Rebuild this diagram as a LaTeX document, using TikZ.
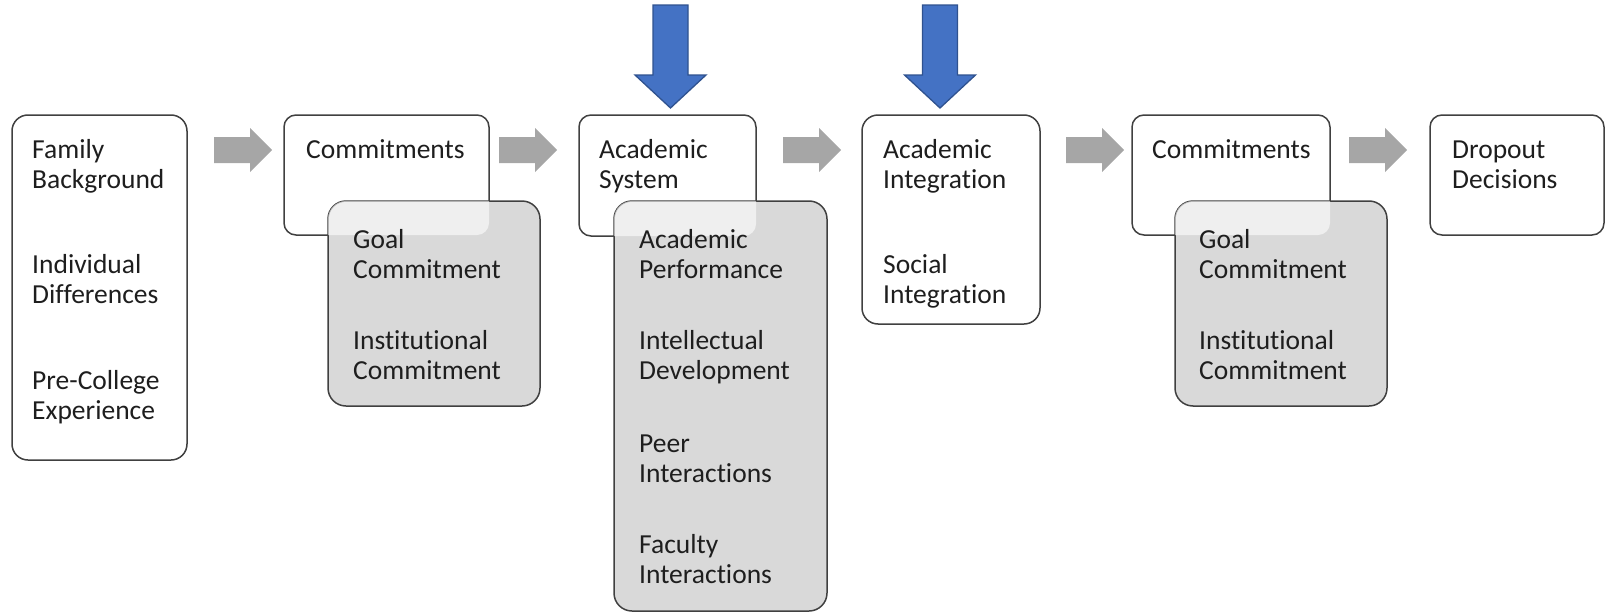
\documentclass[tikz,border=0pt]{standalone}
\usepackage{fontspec}
\setmainfont{Carlito}[Ligatures={NoCommon}]
\definecolor{bordc}{HTML}{404040}
\definecolor{grayf}{HTML}{D9D9D9}
\definecolor{arrg}{HTML}{A6A6A6}
\definecolor{bluef}{HTML}{4472C4}
\definecolor{blued}{HTML}{2F528F}
\definecolor{txtc}{HTML}{1E1E1E}
\begin{document}
\begin{tikzpicture}[x=1pt,y=-1pt,
  wbox/.style={draw=bordc,fill=white,line width=1.5pt,rounded corners=12pt,anchor=north west,inner sep=0pt,outer sep=0pt},
  gbox/.style={draw=bordc,fill=grayf,line width=1.5pt,rounded corners=18pt,anchor=north west,inner sep=0pt,outer sep=0pt},
  txt/.style={anchor=base west,inner sep=0pt,text=txtc,font=\fontsize{27.5}{30.5}\selectfont},
  garrow/.pic={\fill[arrg] (0,-13) -- (36,-13) -- (36,-22) -- (58,0) -- (36,22) -- (36,13) -- (0,13) -- cycle;},
  barrow/.pic={\draw[fill=bluef,draw=blued,line width=1.3pt,line join=miter] (-17.5,0) -- (17.5,0) -- (17.5,70) -- (35.5,70) -- (0,103) -- (-35.5,70) -- (-17.5,70) -- cycle;}
]
\useasboundingbox (0,0) rectangle (1606,613);

% boxes
\node[wbox,rounded corners=16pt,minimum width=175pt,minimum height=345pt] (b1) at (12,115) {};
\node[wbox,minimum width=205pt,minimum height=120pt] (b2) at (284,115) {};
\node[gbox,minimum width=212pt,minimum height=205pt] (g2) at (328,201) {};
\node[wbox,minimum width=177pt,minimum height=121pt] (b3) at (579,115) {};
\node[gbox,minimum width=213pt,minimum height=410pt] (g3) at (614,201) {};
\node[wbox,rounded corners=16pt,minimum width=178pt,minimum height=209pt] (b4) at (862,115) {};
\node[wbox,minimum width=198pt,minimum height=120pt] (b5) at (1132,115) {};
\node[gbox,minimum width=212pt,minimum height=205pt] (g5) at (1175,201) {};
\node[wbox,minimum width=174pt,minimum height=120pt] (b6) at (1430,115) {};

% translucent overlaps
\foreach \w/\g in {b2/g2,b3/g3,b5/g5}{
  \begin{scope}
    \clip[rounded corners=18pt] (\g.north west) rectangle (\g.south east);
    \fill[white,opacity=0.6,rounded corners=12pt] (\w.north west) rectangle (\w.south east);
  \end{scope}
}

% gray arrows
\pic (a1) at (214,150) {garrow};
\pic (a2) at (499,150) {garrow};
\pic (a3) at (783,150) {garrow};
\pic (a4) at (1066,150) {garrow};
\pic (a5) at (1349,150) {garrow};

% blue arrows
\pic (u1) at (670.5,5) {barrow};
\pic (u2) at (940,5) {barrow};

% texts box 1
\node[txt] (t1a) at (32,158) {Family};
\node[txt] (t1b) at (32,188.5) {Background};
\node[txt] (t1c) at (32,273) {Individual};
\node[txt] (t1d) at (32,303.5) {Differences};
\node[txt] (t1e) at (32,389) {Pre-College};
\node[txt] (t1f) at (32,419.5) {Experience};

% box 2
\node[txt] (t2a) at (306,158) {Commitments};
\node[txt] (t2b) at (353,248) {Goal};
\node[txt] (t2c) at (353,278.5) {Commitment};
\node[txt] (t2d) at (353,349) {Institutional};
\node[txt] (t2e) at (353,379.5) {Commitment};

% box 3
\node[txt] (t3a) at (599,158) {Academic};
\node[txt] (t3b) at (599,188.5) {System};
\node[txt] (t3c) at (639,248) {Academic};
\node[txt] (t3d) at (639,278.5) {Performance};
\node[txt] (t3e) at (639,349) {Intellectual};
\node[txt] (t3f) at (639,379.5) {Development};
\node[txt] (t3g) at (639,452) {Peer};
\node[txt] (t3h) at (639,482.5) {Interactions};
\node[txt] (t3i) at (639,553) {Faculty};
\node[txt] (t3j) at (639,583.5) {Interactions};

% box 4
\node[txt] (t4a) at (883,158) {Academic};
\node[txt] (t4b) at (883,188.5) {Integration};
\node[txt] (t4c) at (883,273) {Social};
\node[txt] (t4d) at (883,303.5) {Integration};

% box 5
\node[txt] (t5a) at (1152,158) {Commitments};
\node[txt] (t5b) at (1199,248) {Goal};
\node[txt] (t5c) at (1199,278.5) {Commitment};
\node[txt] (t5d) at (1199,349) {Institutional};
\node[txt] (t5e) at (1199,379.5) {Commitment};

% box 6
\node[txt] (t6a) at (1452,158) {Dropout};
\node[txt] (t6b) at (1452,188.5) {Decisions};
\end{tikzpicture}
\end{document}
